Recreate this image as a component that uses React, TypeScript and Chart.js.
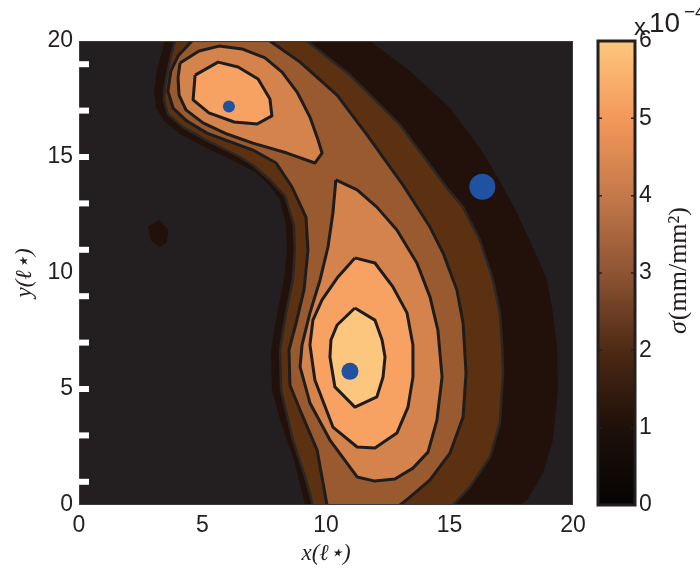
import React, { useEffect, useRef } from 'react';
import { Chart, registerables } from 'chart.js';

Chart.register(...registerables);

type P = [number, number];

// ---------- data (x, y in ℓ* units) ----------
const xTickValues = [0, 5, 10, 15, 20];
const yTickValues = [0, 5, 10, 15, 20];
const minorTickY = [1, 3, 5, 7, 9, 11, 13, 15, 17, 19];

const backgroundColor = '#231f20';
const levelColors = ['#22110a', '#5c3112', '#9a5a30', '#d4834c', '#f7a263', '#fdc67e'];

// outer boundary of level 1 (very dark brown band)
const contourL1: P[] = [
  [9.15, -1], [9.15, 0], [8.70, 1.94], [8.18, 3.53], [7.81, 4.96], [7.77, 6.68], [8.02, 8.28],
  [8.30, 9.70], [8.42, 10.99], [8.38, 12.07], [8.14, 13.15], [7.65, 13.84], [7.13, 14.35],
  [6.19, 14.87], [5.10, 15.43], [4.09, 15.99], [3.44, 16.55], [3.12, 17.11], [3.04, 17.89],
  [3.16, 18.75], [3.32, 19.40], [3.48, 20], [3.48, 21], [11.78, 21], [11.78, 20], [13.40, 18.71],
  [15.02, 17.11], [16.23, 15.39], [17.04, 13.97], [17.73, 12.59], [18.38, 11.12], [18.95, 9.70],
  [19.19, 8.28], [19.35, 6.90], [19.39, 4.96], [19.19, 2.80], [18.79, 1.38], [18.14, 0.22],
  [17.85, 0], [17.85, -1],
];
// small isolated level-1 spot
const spotL1: P[] = [[3.24, 12.28], [3.62, 11.88], [3.55, 11.28], [3.25, 11.11], [2.90, 11.42], [2.79, 12.00]];

const contourL2: P[] = [
  [9.47, -1], [9.47, 0], [9.19, 1.08], [8.66, 2.80], [8.18, 4.96], [8.14, 6.68], [8.38, 8.28],
  [8.66, 9.70], [8.74, 10.99], [8.70, 12.07], [8.34, 13.32], [7.73, 14.01], [7.09, 14.61],
  [6.52, 15.00], [5.14, 15.73], [4.21, 16.29], [3.60, 16.85], [3.44, 17.46], [3.48, 18.10],
  [3.60, 18.75], [3.72, 19.35], [3.89, 20], [3.89, 21], [9.23, 21], [9.23, 20], [10.97, 18.53],
  [13.00, 16.38], [14.90, 13.66], [15.55, 12.84], [16.23, 11.42], [16.76, 9.70], [17.04, 8.28],
  [17.13, 6.90], [17.17, 5.69], [17.04, 3.53], [16.64, 2.07], [15.83, 0.78], [15.14, 0], [15.14, -1],
];

const contourL3: P[] = [
  [10.04, -1], [10.04, 0], [9.64, 2.37], [8.95, 4.09], [8.54, 5.17], [8.50, 6.68], [8.79, 7.84],
  [9.11, 9.27], [9.27, 10.99], [9.19, 12.41], [8.62, 13.71], [7.98, 14.74], [7.04, 15.30],
  [5.18, 16.03], [4.37, 16.55], [3.81, 17.11], [3.60, 17.84], [3.72, 18.71], [4.01, 19.35],
  [4.57, 20], [4.57, 21], [7.73, 21], [7.73, 20], [8.95, 19.09], [10.45, 17.67], [11.66, 15.95],
  [13.12, 13.79], [14.21, 11.98], [14.74, 10.86], [15.30, 9.27], [15.55, 7.84], [15.67, 5.69],
  [15.55, 3.79], [15.02, 2.24], [14.21, 1.08], [13.40, 0.34], [13.00, 0], [13.00, -1],
];

const contourL4Upper: P[] = [
  [4.09, 19.05], [4.86, 19.57], [5.67, 19.78], [6.60, 19.66], [7.53, 19.27], [8.22, 18.66],
  [8.83, 17.80], [9.35, 16.72], [9.68, 15.73], [9.84, 15.17], [9.55, 14.74], [8.42, 15.17],
  [7.04, 15.60], [5.99, 15.99], [5.02, 16.47], [4.33, 17.03], [4.05, 17.67], [4.01, 18.41],
];
const contourL5Upper: P[] = [
  [4.70, 18.53], [5.63, 19.09], [6.44, 18.88], [7.25, 18.36], [7.73, 17.50], [7.81, 16.77],
  [7.21, 16.42], [6.28, 16.51], [5.26, 16.90], [4.62, 17.46],
];

const contourL4Lower: P[] = [
  [10.40, 14.01], [11.26, 13.58], [12.06, 12.84], [12.87, 11.85], [13.68, 10.43], [14.21, 8.97],
  [14.53, 7.54], [14.70, 5.52], [14.49, 3.66], [14.13, 2.28], [13.52, 1.59], [12.79, 1.12],
  [11.98, 1.03], [11.26, 1.21], [10.16, 2.80], [9.35, 4.40], [8.95, 5.95], [9.03, 6.90],
  [9.35, 8.28], [9.76, 9.70], [10.08, 11.12], [10.28, 12.59],
];
const contourL5Lower: P[] = [
  [11.17, 10.65], [11.98, 10.43], [12.71, 9.40], [13.28, 8.28], [13.52, 6.90], [13.52, 5.52],
  [13.32, 4.22], [12.87, 3.10], [11.98, 2.46], [11.26, 2.50], [10.28, 3.36], [9.55, 5.39],
  [9.35, 6.90], [9.47, 7.97], [9.84, 8.84], [10.45, 9.78],
];
const contourL6Lower: P[] = [
  [11.17, 8.49], [11.98, 7.97], [12.27, 7.11], [12.39, 6.38], [12.31, 5.52], [12.06, 4.66],
  [11.17, 4.22], [10.36, 5.09], [10.16, 6.38], [10.20, 7.11], [10.45, 7.76],
];

// blue markers
const markerX = [6.07, 10.97, 16.33];
const markerY = [17.18, 5.76, 13.72];
const markerRadius = [6, 8.5, 13];

// colour bar
const cbTickValues = [0, 1, 2, 3, 4, 5, 6];
const cmapStops = [0, 1, 2, 3, 4, 5, 6];
const cmapColors = ['#050404', '#1e100a', '#4d2a14', '#8e5434', '#c4794a', '#f3985a', '#fdc67c'];

const SANS = "'Liberation Sans', Arial, Helvetica, sans-serif";
const SERIF = "'Liberation Serif', 'DejaVu Serif', 'Times New Roman', serif";
const TEXT = '#231f20';

function poly(label: string, pts: P[], fill: string, line: string, width: number, order: number) {
  return {
    type: 'line' as const,
    label,
    data: pts.concat([pts[0]]).map(([x, y]) => ({ x, y })),
    showLine: true,
    fill: false,
    tension: 0,
    pointRadius: 0,
    pointHoverRadius: 0,
    borderColor: line,
    borderWidth: width,
    borderJoinStyle: 'round' as const,
    polyFill: fill,
    order,
    clip: 0,
  };
}

const polyFillPlugin = {
  id: 'polyFill',
  beforeDatasetsDraw(chart: any) {
    const { ctx, chartArea: a } = chart;
    ctx.save();
    ctx.fillStyle = backgroundColor;
    ctx.fillRect(a.left, a.top, a.right - a.left, a.bottom - a.top);
    ctx.restore();
  },
  beforeDatasetDraw(chart: any, args: any) {
    const ds = chart.data.datasets[args.index];
    if (!ds.polyFill) return;
    const pts = args.meta.data;
    const { ctx, chartArea: a } = chart;
    ctx.save();
    ctx.beginPath();
    ctx.rect(a.left, a.top, a.right - a.left, a.bottom - a.top);
    ctx.clip();
    ctx.beginPath();
    pts.forEach((p: any, i: number) => (i ? ctx.lineTo(p.x, p.y) : ctx.moveTo(p.x, p.y)));
    ctx.closePath();
    ctx.fillStyle = ds.polyFill;
    ctx.fill();
    ctx.restore();
  },
  afterDatasetsDraw(chart: any) {
    const { ctx, chartArea: a } = chart;
    const ys = chart.scales.y;
    ctx.save();
    ctx.strokeStyle = '#3c3a3a';
    ctx.lineWidth = 1;
    ctx.strokeRect(a.left + 0.5, a.top + 0.5, a.right - a.left - 1, a.bottom - a.top - 1);
    ctx.fillStyle = '#ffffff';
    minorTickY.forEach((v) => {
      const y = ys.getPixelForValue(v);
      ctx.fillRect(a.left - 1, y - 3, 11, 6);
    });
    ctx.restore();
  },
};

const colorbarPlugin = {
  id: 'colorbarDecor',
  afterDatasetsDraw(chart: any) {
    const { ctx, chartArea: a } = chart;
    const ys = chart.scales.y;
    ctx.save();
    ctx.strokeStyle = TEXT;
    ctx.lineWidth = 1.5;
    cbTickValues.forEach((v) => {
      const y = ys.getPixelForValue(v);
      ctx.beginPath();
      ctx.moveTo(a.left, y);
      ctx.lineTo(a.left + 4, y);
      ctx.moveTo(a.right, y);
      ctx.lineTo(a.right - 4, y);
      ctx.stroke();
    });
    ctx.lineWidth = 3;
    ctx.strokeRect(a.left, a.top, a.right - a.left, a.bottom - a.top);

    // exponent label
    ctx.fillStyle = TEXT;
    ctx.textBaseline = 'alphabetic';
    ctx.textAlign = 'left';
    ctx.font = `24px ${SANS}`;
    ctx.fillText('x', 634, 35);
    ctx.font = `28px ${SANS}`;
    ctx.fillText('10', 649, 32);
    ctx.font = `19px ${SANS}`;
    ctx.fillText('−4', 684, 18);

    // colour bar title: σ(mm/mm²), reading bottom to top
    ctx.translate(679, (a.top + a.bottom) / 2 - 2);
    ctx.rotate(-Math.PI / 2);
    ctx.textBaseline = 'middle';
    ctx.textAlign = 'left';
    const sigmaFont = `italic 26px ${SERIF}`;
    const restFont = `26px ${SERIF}`;
    ctx.font = sigmaFont;
    const w1 = ctx.measureText('σ').width;
    ctx.font = restFont;
    const w2 = ctx.measureText('(mm/mm²)').width;
    const start = -(w1 + w2) / 2;
    ctx.font = sigmaFont;
    ctx.fillText('σ', start, 0);
    ctx.font = restFont;
    ctx.fillText('(mm/mm²)', start + w1 + 1, 0);
    ctx.restore();
  },
};

export default function App() {
  const mainRef = useRef<HTMLCanvasElement>(null);
  const cbRef = useRef<HTMLCanvasElement>(null);

  useEffect(() => {
    if (!mainRef.current || !cbRef.current) return;

    const lineCol = '#1e1c1c';
    const datasets: any[] = [
      {
        type: 'scatter',
        label: 'markers',
        data: markerX.map((x, i) => ({ x, y: markerY[i] })),
        pointRadius: markerRadius,
        pointHoverRadius: markerRadius,
        backgroundColor: '#2151a1',
        borderWidth: 0,
        order: 0,
      },
      poly('level 6', contourL6Lower, levelColors[5], lineCol, 3, 1),
      poly('level 5 lower', contourL5Lower, levelColors[4], lineCol, 3, 2),
      poly('level 5 upper', contourL5Upper, levelColors[4], lineCol, 3, 2),
      poly('level 4 lower', contourL4Lower, levelColors[3], lineCol, 3, 3),
      poly('level 4 upper', contourL4Upper, levelColors[3], lineCol, 3, 3),
      poly('level 3', contourL3, levelColors[2], lineCol, 3, 4),
      poly('level 2', contourL2, levelColors[1], '#2b2726', 2.5, 5),
      poly('level 1 spot', spotL1, levelColors[0], levelColors[0], 0, 6),
      poly('level 1', contourL1, levelColors[0], levelColors[0], 0, 6),
    ];

    const main = new Chart(mainRef.current, {
      type: 'scatter',
      data: { datasets },
      options: {
        animation: false,
        responsive: false,
        events: [],
        layout: { padding: { left: 0, right: 127, top: 41, bottom: 0 } },
        plugins: { legend: { display: false }, tooltip: { enabled: false } },
        scales: {
          x: {
            type: 'linear',
            min: 0,
            max: 20,
            afterBuildTicks: (s: any) => {
              s.ticks = xTickValues.map((v) => ({ value: v }));
            },
            ticks: { font: { family: SANS, size: 23 }, color: TEXT, padding: 7, maxRotation: 0, autoSkip: false },
            grid: { display: false, drawTicks: false },
            border: { display: false },
            title: {
              display: true,
              text: 'x(ℓ⋆)',
              color: TEXT,
              font: { family: SERIF, size: 23, style: 'italic' },
              padding: { top: 0, bottom: 2 },
            },
            afterFit: (s: any) => {
              s.height = 65;
            },
          },
          y: {
            type: 'linear',
            min: 0,
            max: 20,
            afterBuildTicks: (s: any) => {
              s.ticks = yTickValues.map((v) => ({ value: v }));
            },
            ticks: { font: { family: SANS, size: 23 }, color: TEXT, padding: 6, autoSkip: false },
            grid: { display: false, drawTicks: false },
            border: { display: false },
            title: {
              display: true,
              text: 'y(ℓ⋆)',
              color: TEXT,
              font: { family: SERIF, size: 23, style: 'italic' },
              padding: { top: 11, bottom: 0 },
            },
            afterFit: (s: any) => {
              s.width = 79;
            },
          },
        },
      } as any,
      plugins: [polyFillPlugin],
    });

    const cb = new Chart(cbRef.current, {
      type: 'bar',
      data: {
        labels: ['σ'],
        datasets: [
          {
            data: [[cmapStops[0], cmapStops[cmapStops.length - 1]]] as any,
            backgroundColor: (c: any) => {
              const chart = c.chart;
              if (!chart.chartArea) return cmapColors[3];
              const ys = chart.scales.y;
              const top = cmapStops[cmapStops.length - 1];
              const g = chart.ctx.createLinearGradient(0, ys.getPixelForValue(0), 0, ys.getPixelForValue(top));
              cmapStops.forEach((v, i) => g.addColorStop(v / top, cmapColors[i]));
              return g;
            },
            barPercentage: 1,
            categoryPercentage: 1,
            borderWidth: 0,
          },
        ],
      },
      options: {
        animation: false,
        responsive: false,
        events: [],
        layout: { padding: { left: 598, right: 0, top: 41, bottom: 65 } },
        plugins: { legend: { display: false }, tooltip: { enabled: false } },
        scales: {
          x: { display: false },
          y: {
            position: 'right',
            min: 0,
            max: 6,
            afterBuildTicks: (s: any) => {
              s.ticks = cbTickValues.map((v) => ({ value: v }));
            },
            ticks: { font: { family: SANS, size: 23 }, color: TEXT, padding: 4, autoSkip: false },
            grid: { display: false, drawTicks: false },
            border: { display: false },
            afterFit: (s: any) => {
              s.width = 65;
            },
          },
        },
      } as any,
      plugins: [colorbarPlugin],
    });

    return () => {
      main.destroy();
      cb.destroy();
    };
  }, []);

  return (
    <div style={{ position: 'fixed', left: 0, top: 0, width: 700, height: 570, background: '#ffffff' }}>
      <canvas ref={mainRef} width={700} height={570} style={{ position: 'absolute', left: 0, top: 0, display: 'block' }} />
      <canvas ref={cbRef} width={700} height={570} style={{ position: 'absolute', left: 0, top: 0, display: 'block', pointerEvents: 'none' }} />
    </div>
  );
}
